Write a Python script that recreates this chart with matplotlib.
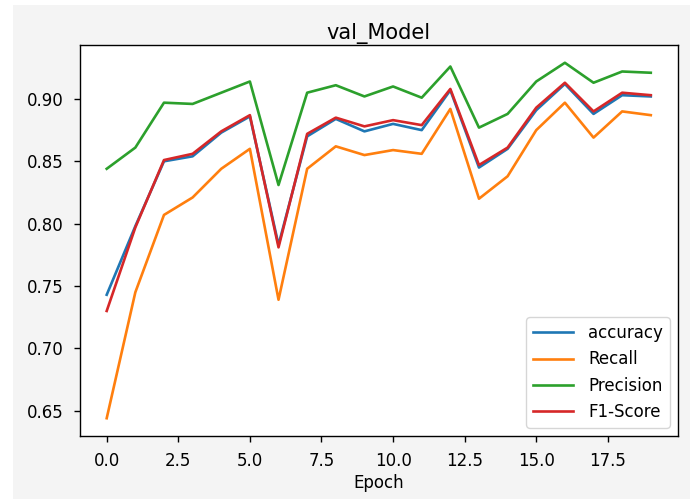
import matplotlib
matplotlib.use("Agg")
import matplotlib.pyplot as plt
from matplotlib.patches import Rectangle

# valores (val_Model)
epocas = list(range(20))
accuracy = [0.743, 0.798, 0.850, 0.854, 0.873, 0.886, 0.783, 0.870, 0.884, 0.874,
            0.880, 0.875, 0.907, 0.845, 0.860, 0.891, 0.912, 0.888, 0.903, 0.902]
recall = [0.644, 0.745, 0.807, 0.821, 0.844, 0.860, 0.739, 0.844, 0.862, 0.855,
          0.859, 0.856, 0.892, 0.820, 0.838, 0.875, 0.897, 0.869, 0.890, 0.887]
precision = [0.844, 0.861, 0.897, 0.896, 0.905, 0.914, 0.831, 0.905, 0.911, 0.902,
             0.910, 0.901, 0.926, 0.877, 0.888, 0.914, 0.929, 0.913, 0.922, 0.921]
f1 = [0.730, 0.797, 0.851, 0.856, 0.874, 0.887, 0.781, 0.872, 0.885, 0.878,
      0.883, 0.879, 0.908, 0.847, 0.861, 0.893, 0.913, 0.890, 0.905, 0.903]

plt.rcParams['font.family'] = 'DejaVu Sans'
plt.rcParams['font.size'] = 12

fig = plt.figure(figsize=(6.96, 4.99), dpi=100)
fig.patch.set_facecolor('white')
# fundo cinza do notebook
fig.patches.append(Rectangle((13/696, 0), 677/696, 494/499, transform=fig.transFigure,
                             facecolor='#f4f4f4', edgecolor='none', zorder=-10))

ax = fig.add_axes([79.5/696, 63/499, 598.5/696, 391/499])
ax.set_facecolor('white')

ax.plot(epocas, accuracy, lw=1.9, label='accuracy')
ax.plot(epocas, recall, lw=1.9, label='Recall')
ax.plot(epocas, precision, lw=1.9, label='Precision')
ax.plot(epocas, f1, lw=1.9, label='F1-Score')

ax.set_title('val_Model', fontsize=15, pad=4)
ax.set_xlabel('Epoch', labelpad=3)
ax.tick_params(length=4.5, width=1.0, labelsize=12, pad=7)
for s in ax.spines.values():
    s.set_linewidth(1.0)
ax.legend(loc='lower right', fontsize=12, handlelength=2.4, handletextpad=0.9)

fig.savefig('out.png', dpi=100)
